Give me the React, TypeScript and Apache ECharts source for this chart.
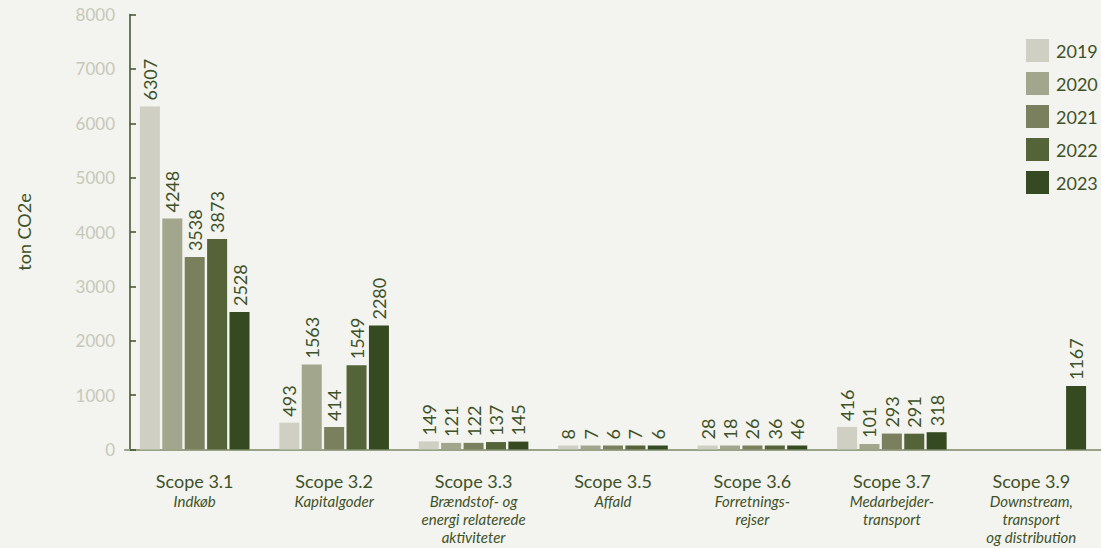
import React, { useEffect, useRef } from "react";
import * as echarts from "echarts";

const categories = [
  "{a|Scope 3.1}\n{b|Indkøb}",
  "{a|Scope 3.2}\n{b|Kapitalgoder}",
  "{a|Scope 3.3}\n{b|Brændstof- og}\n{b|energi relaterede}\n{b|aktiviteter}",
  "{a|Scope 3.5}\n{b|Affald}",
  "{a|Scope 3.6}\n{b|Forretnings-}\n{b|rejser}",
  "{a|Scope 3.7}\n{b|Medarbejder-}\n{b|transport}",
  "{a|Scope 3.9}\n{b|Downstream,}\n{b|transport}\n{b|og distribution}",
];
const years = ["2019", "2020", "2021", "2022", "2023"];
const v2019 = [6307, 493, 149, 8, 28, 416, null];
const v2020 = [4248, 1563, 121, 7, 18, 101, null];
const v2021 = [3538, 414, 122, 6, 26, 293, null];
const v2022 = [3873, 1549, 137, 7, 36, 291, null];
const v2023 = [2528, 2280, 145, 6, 46, 318, 1167];
const colors = ["#cfcfc3", "#a2a68c", "#7a7f5e", "#556338", "#354a20"];

const DARK = "#3e5228";
const FONT = "Lato";

export default function App() {
  const ref = useRef<HTMLDivElement>(null);
  useEffect(() => {
    document.body.style.margin = "0";
    document.body.style.background = "#f3f3ef";
    const chart = echarts.init(ref.current!, null, { renderer: "svg" });
    const values = [v2019, v2020, v2021, v2022, v2023];
    chart.setOption({
      animation: false,
      backgroundColor: "#f3f3ef",
      textStyle: { fontFamily: FONT },
      grid: { left: 125, top: 14.5, width: 990, height: 435, containLabel: false },
      legend: {
        orient: "vertical",
        left: 1026,
        top: 39,
        padding: 0,
        itemWidth: 23,
        itemHeight: 23,
        itemGap: 10,
        icon: "rect",
        textStyle: { color: DARK, fontSize: 18, fontFamily: FONT, padding: [0, 0, 0, 2] },
        data: years,
      },
      xAxis: {
        type: "category",
        data: categories,
        axisLine: { show: true, lineStyle: { color: "#97a287", width: 2 } },
        axisTick: { show: false },
        axisLabel: {
          margin: 20,
          interval: 0,
          color: DARK,
          fontFamily: FONT,
          rich: {
            a: { fontSize: 18, lineHeight: 22, color: DARK, fontFamily: FONT },
            b: { fontSize: 15, lineHeight: 18, fontStyle: "italic", color: DARK, fontFamily: FONT },
          },
        },
      },
      yAxis: {
        type: "value",
        min: 0,
        max: 8000,
        interval: 1000,
        offset: -5,
        name: "ton CO2e",
        nameLocation: "middle",
        nameGap: 97,
        nameRotate: 90,
        nameTextStyle: { color: DARK, fontSize: 18, fontFamily: FONT },
        axisLine: { show: true, lineStyle: { color: DARK, width: 1.5 } },
        axisTick: { show: true, inside: true, length: 6, lineStyle: { color: DARK, width: 1.5 } },
        splitLine: { show: false },
        axisLabel: {
          color: "#c6c9b9",
          fontSize: 17,
          margin: 15,
          fontFamily: FONT,
          formatter: (v: number) => String(v),
        },
      },
      series: years.map((y, i) => ({
        name: y,
        type: "bar",
        data: values[i],
        barWidth: 20,
        barGap: "12%",
        barMinHeight: 4,
        itemStyle: { color: colors[i] },
        label: {
          show: true,
          position: "top",
          rotate: 90,
          align: "left",
          verticalAlign: "middle",
          distance: 6,
          color: DARK,
          fontSize: 18,
          fontFamily: FONT,
        },
      })),
    });
    return () => chart.dispose();
  }, []);
  return <div ref={ref} style={{ width: 1101, height: 548 }} />;
}
